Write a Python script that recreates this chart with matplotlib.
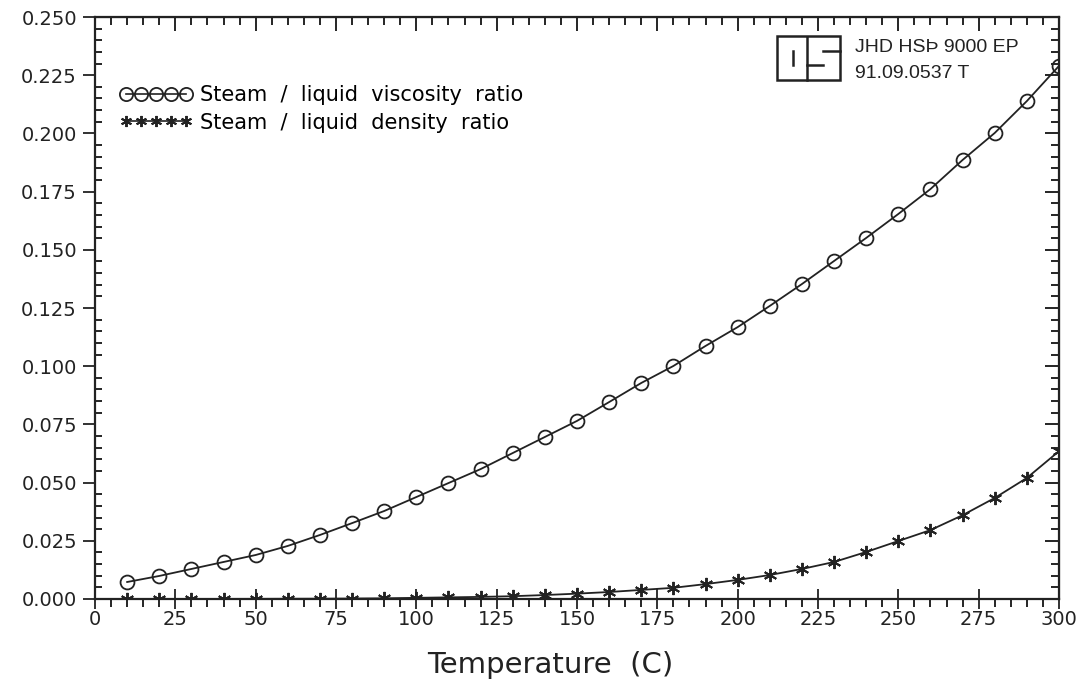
import matplotlib.pyplot as plt
from matplotlib.ticker import MultipleLocator, FormatStrFormatter
from matplotlib.lines import Line2D
from matplotlib.patches import Rectangle

# temperaturas de 10 a 300 C
temperatura = [10, 20, 30, 40, 50, 60, 70, 80, 90, 100,
               110, 120, 130, 140, 150, 160, 170, 180, 190, 200,
               210, 220, 230, 240, 250, 260, 270, 280, 290, 300]

viscosidad = [0.0073, 0.0099, 0.0129, 0.0159, 0.0189, 0.0228, 0.0275, 0.0326, 0.0378, 0.0438,
              0.0498, 0.0558, 0.0627, 0.0696, 0.0765, 0.0846, 0.0928, 0.1001, 0.1087, 0.1168,
              0.1259, 0.1353, 0.1452, 0.1551, 0.1654, 0.1761, 0.1886, 0.2002, 0.2139, 0.2290]

densidad = [0.00001, 0.00002, 0.00003, 0.00004, 0.00006, 0.0001, 0.00013, 0.0002, 0.0003, 0.0005,
            0.0007, 0.0009, 0.0012, 0.0017, 0.0023, 0.0030, 0.0039, 0.0048, 0.0064, 0.0082,
            0.0103, 0.0129, 0.0159, 0.0202, 0.0249, 0.0296, 0.0360, 0.0434, 0.0520, 0.0635]

etiqueta_visc = "Steam  /  liquid  viscosity  ratio"
etiqueta_dens = "Steam  /  liquid  density  ratio"
codigo = ["JHD HSÞ 9000 EP", "91.09.0537 T"]

negro = "#222222"

fig = plt.figure(figsize=(10.76, 6.92), dpi=100)
ax = fig.add_axes([0.0883, 0.1344, 0.8959, 0.841])

ax.plot(temperatura, viscosidad, color=negro, lw=1.3, marker="o", ms=10,
        mfc="none", mec=negro, mew=1.3)
ax.plot(temperatura, densidad, color=negro, lw=1.3, marker=(6, 2, 0), ms=9.5,
        mec=negro, mew=1.4)

ax.set_xlim(0, 300)
ax.set_ylim(0, 0.250)
ax.xaxis.set_major_locator(MultipleLocator(25))
ax.xaxis.set_minor_locator(MultipleLocator(5))
ax.yaxis.set_major_locator(MultipleLocator(0.025))
ax.yaxis.set_minor_locator(MultipleLocator(0.005))
ax.yaxis.set_major_formatter(FormatStrFormatter("%.3f"))

for lado in ax.spines.values():
    lado.set_linewidth(1.6)
    lado.set_color(negro)

ax.tick_params(axis="x", which="major", direction="inout", length=14, width=1.3,
               labelsize=14, colors=negro, top=False, pad=1)
ax.tick_params(axis="x", which="minor", direction="out", length=6, width=1.2,
               top=False)
ax.tick_params(axis="y", which="major", direction="out", length=9, width=1.3,
               labelsize=14, colors=negro, right=False, pad=4)
ax.tick_params(axis="y", which="minor", direction="in", length=5, width=1.2,
               right=False)

# ticks interiores en los lados de arriba y derecha
ax_top = ax.secondary_xaxis("top")
ax_top.xaxis.set_major_locator(MultipleLocator(25))
ax_top.xaxis.set_minor_locator(MultipleLocator(5))
ax_top.tick_params(which="major", direction="in", length=10, width=1.2, labeltop=False)
ax_top.tick_params(which="minor", direction="in", length=6, width=1.2)
ax_der = ax.secondary_yaxis("right")
ax_der.yaxis.set_major_locator(MultipleLocator(0.025))
ax_der.yaxis.set_minor_locator(MultipleLocator(0.005))
ax_der.tick_params(which="major", direction="in", length=10, width=1.2, labelright=False)
ax_der.tick_params(which="minor", direction="in", length=6, width=1.2)

ax.set_xlabel("Temperature  (C)", fontsize=21, color=negro)
ax.xaxis.set_label_coords(0.472, -0.09)

h1 = Line2D([], [], color=negro, lw=1.2, marker="o", ms=9.5, mfc="none", mew=1.3)
h2 = Line2D([], [], color=negro, lw=1.2, marker=(6, 2, 0), ms=8, mew=1.4)
ax.legend([h1, h2], [etiqueta_visc, etiqueta_dens], loc="upper left",
          bbox_to_anchor=(0.006, 0.915), frameon=False, numpoints=5,
          handlelength=3.5, handletextpad=0.35, labelspacing=0.35,
          prop={"size": 15})

# recuadro del logotipo
fig.add_artist(Rectangle((777 / 1076, 1 - 80 / 692), 63 / 1076, 44 / 692,
                         transform=fig.transFigure, fill=False, lw=1.8, ec=negro))
segmentos = [((807, 37), (807, 80)), ((793, 51), (793, 65)),
             ((823, 51), (840, 51)), ((807, 65), (823, 65))]
for (x0, y0), (x1, y1) in segmentos:
    fig.add_artist(Line2D([x0 / 1076, x1 / 1076], [1 - y0 / 692, 1 - y1 / 692],
                          transform=fig.transFigure, lw=1.8, color=negro))
fig.text(855 / 1076, 1 - 47 / 692, codigo[0], fontsize=14, va="center",
         family="Liberation Sans", color=negro)
fig.text(855 / 1076, 1 - 73 / 692, codigo[1], fontsize=14, va="center",
         family="Liberation Sans", color=negro)

plt.savefig("out.png", dpi=100)
